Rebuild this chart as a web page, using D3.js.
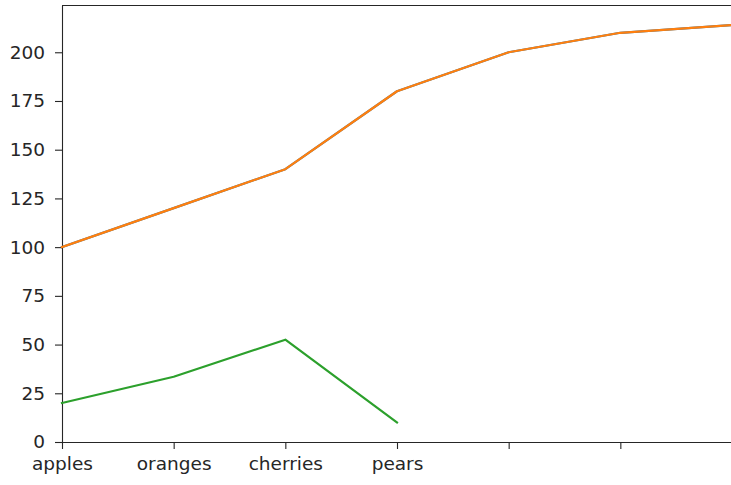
<!DOCTYPE html>
<html>
<head>
<meta charset="utf-8">
<script src="https://cdn.jsdelivr.net/npm/d3@7"></script>
<style>
  html, body { margin: 0; padding: 0; background: #fff; overflow: hidden; }
  svg { display: block; }
  .axis text { font-family: "DejaVu Sans", sans-serif; font-size: 18.5px; fill: #262626; }
  .axis path, .axis line { stroke: #262626; stroke-width: 1.1; }
</style>
</head>
<body>
<div id="chart"></div>
<script>
// tick labels along x (only first four are named)
const categories = ["apples", "oranges", "cherries", "pears", "", "", ""];
// first series (blue, hidden under orange) and second series (orange)
const blueValues = [100, 120, 140, 180, 200, 210, 214];
const orangeValues = [100, 120, 140, 180, 200, 210, 214];
// third series (green), only four points
const greenValues = [20, 33.5, 52.5, 10];
const yTicks = [0, 25, 50, 75, 100, 125, 150, 175, 200];

const width = 731, height = 485;
const margin = { left: 62, right: 732, top: 5.5, bottom: 442 };

const svg = d3.select("#chart")
  .append("svg")
  .attr("width", width)
  .attr("height", height);

// index scale, first point sits on the left spine
const x = d3.scaleLinear()
  .domain([0, categories.length - 1])
  .range([margin.left, margin.right]);

const y = d3.scaleLinear()
  .domain([0, 224])
  .range([margin.bottom, margin.top]);

// top and right spines
svg.append("line")
  .attr("x1", margin.left).attr("x2", margin.right)
  .attr("y1", margin.top).attr("y2", margin.top)
  .attr("stroke", "#262626").attr("stroke-width", 1.1);
svg.append("line")
  .attr("x1", margin.right).attr("x2", margin.right)
  .attr("y1", margin.top).attr("y2", margin.bottom)
  .attr("stroke", "#262626").attr("stroke-width", 1.1);

// x axis
svg.append("g")
  .attr("class", "axis")
  .attr("transform", `translate(0,${margin.bottom})`)
  .call(d3.axisBottom(x)
    .tickValues(d3.range(categories.length))
    .tickFormat(i => categories[i])
    .tickSize(7)
    .tickPadding(8)
    .tickSizeOuter(0));

// y axis
svg.append("g")
  .attr("class", "axis")
  .attr("transform", `translate(${margin.left},0)`)
  .call(d3.axisLeft(y)
    .tickValues(yTicks)
    .tickSize(7)
    .tickPadding(10)
    .tickSizeOuter(0));

const line = d3.line()
  .x((d, i) => x(i))
  .y(d => y(d));

const series = [
  { values: blueValues, color: "#1f77b4" },
  { values: orangeValues, color: "#ff7f0e" },
  { values: greenValues, color: "#2ca02c" }
];

svg.selectAll(".series")
  .data(series)
  .join("path")
  .attr("class", "series")
  .attr("d", d => line(d.values))
  .attr("fill", "none")
  .attr("stroke", d => d.color)
  .attr("stroke-width", 2.2)
  .attr("stroke-linejoin", "round")
  .attr("stroke-linecap", "square");
</script>
</body>
</html>
